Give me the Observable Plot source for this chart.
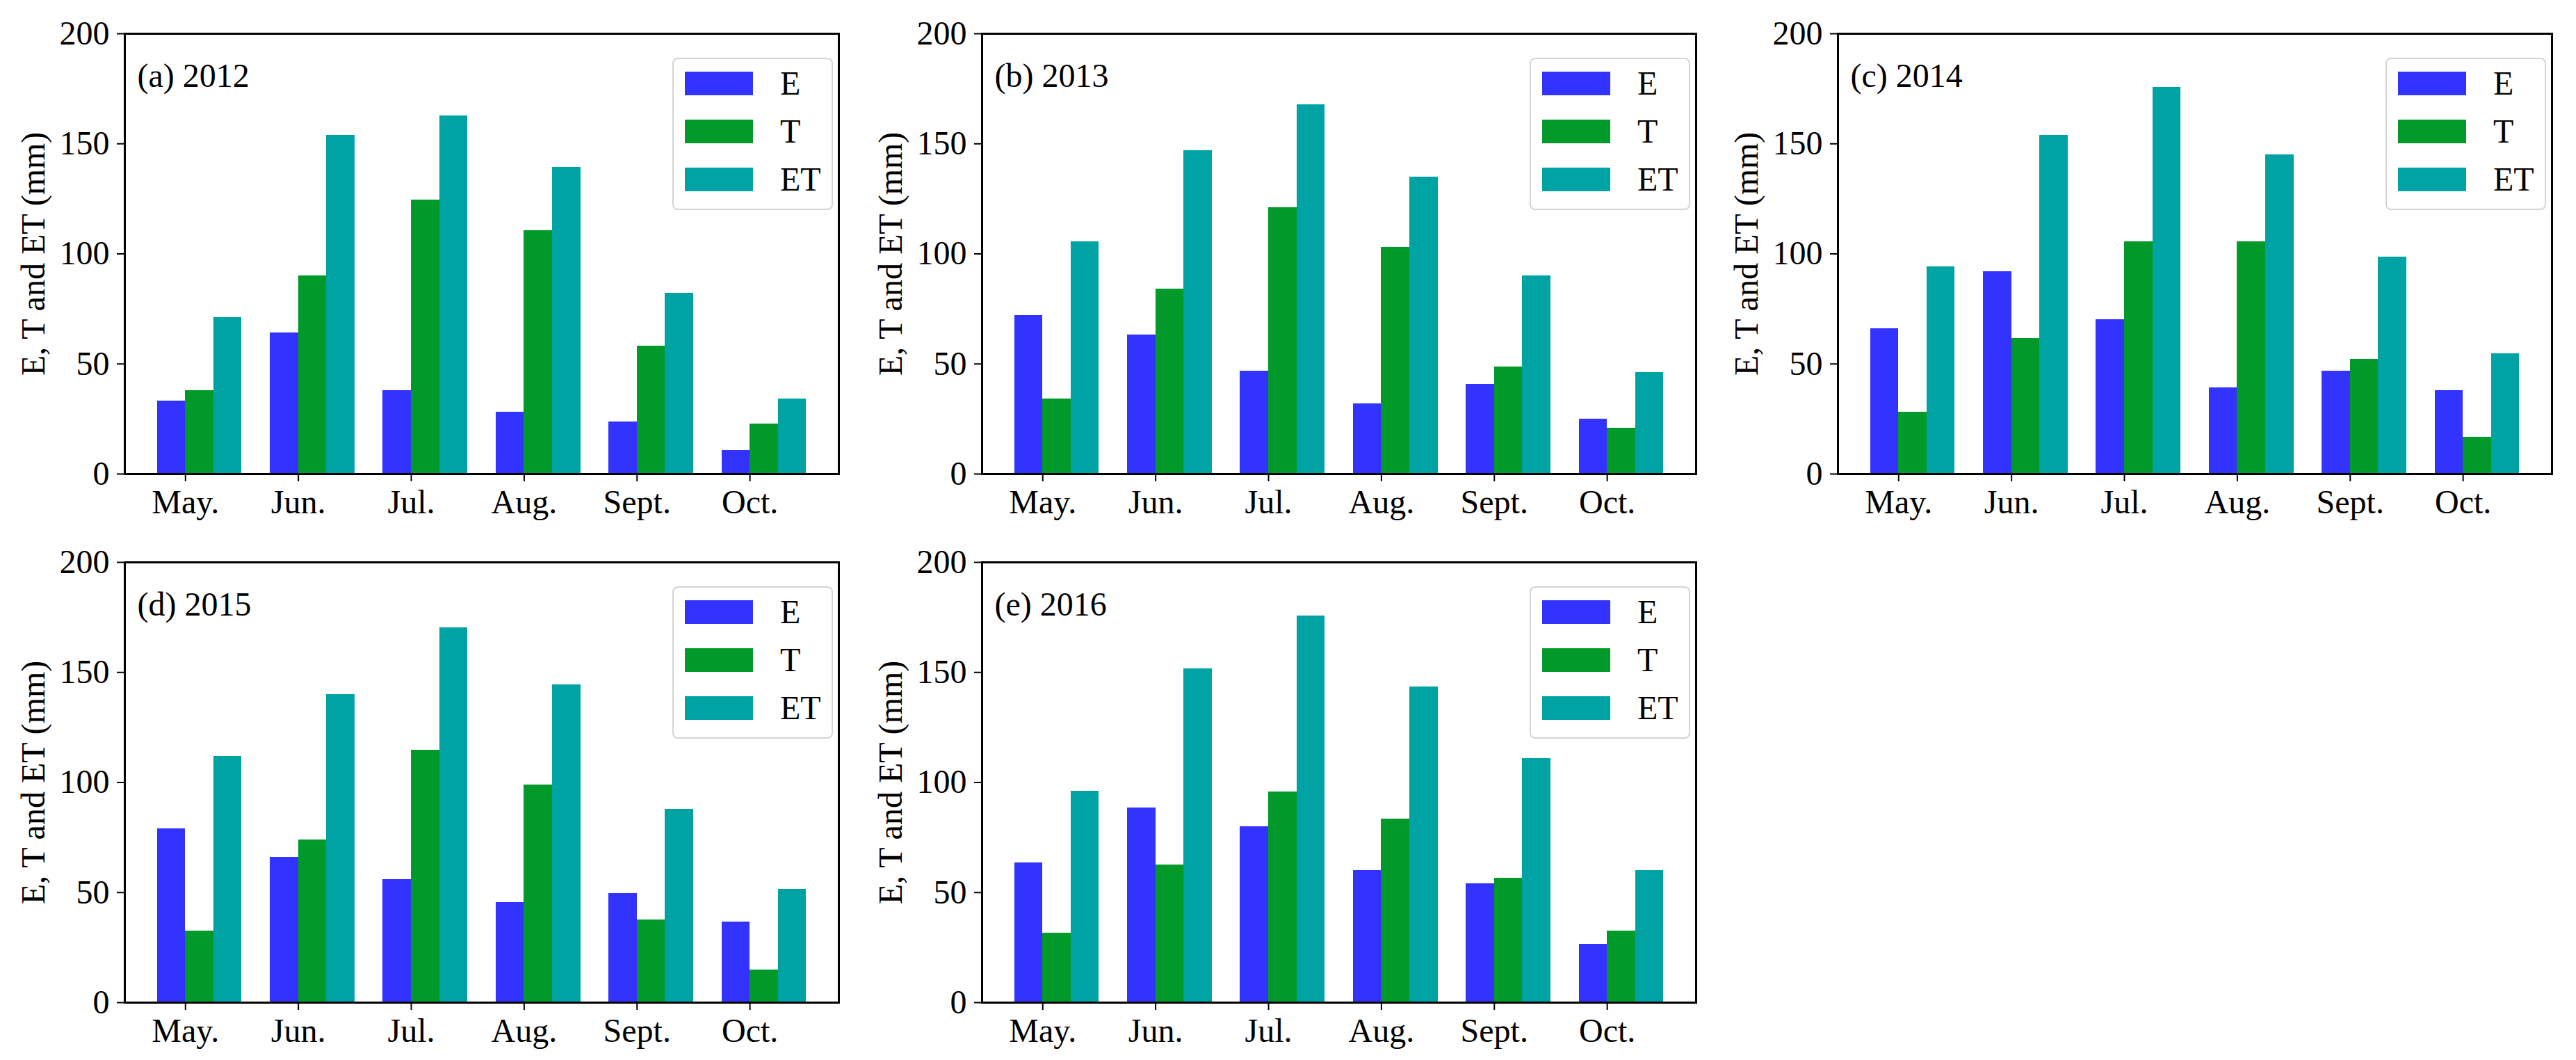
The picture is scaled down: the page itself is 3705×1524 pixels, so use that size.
<!DOCTYPE html>
<html>
<head>
<meta charset="utf-8">
<script src="https://cdn.jsdelivr.net/npm/d3@7"></script>
<script src="https://cdn.jsdelivr.net/npm/@observablehq/plot@0.6"></script>
<style>
  body { margin: 0; background: #fff; }
  #fig { position: relative; width: 3705px; height: 1524px; font-family: "Liberation Serif", "Times New Roman", serif; }
  .panel { position: absolute; }
  .legend {
    position: absolute; box-sizing: border-box; width: 231px; height: 219px;
    border: 2px solid #d4d4d4; border-radius: 8px; background: rgba(255,255,255,0.8);
    padding: 18px 0 0 16px;
  }
  .legend .row { display: flex; align-items: center; height: 34px; margin-bottom: 35px; }
  .legend .sw { width: 98px; height: 34px; }
  .legend .lab { margin-left: 39px; font-size: 48px; line-height: 34px; color: #000; }
</style>
</head>
<body>
<div id="fig"></div>
<script>
const months = ["May.", "Jun.", "Jul.", "Aug.", "Sept.", "Oct."];
const series = ["E", "T", "ET"];
const colors = ["#3333ff", "#00992a", "#00a3a3"];
const yTicks = [0, 50, 100, 150, 200];

// values (mm)
const e2012  = [33.3, 64.2, 38.0, 28.0, 23.8, 10.7];
const t2012  = [38.0, 90.0, 124.6, 110.6, 58.2, 22.8];
const et2012 = [71.1, 153.9, 162.8, 139.2, 82.0, 34.0];

const e2013  = [71.9, 63.1, 46.9, 31.9, 40.9, 25.1];
const t2013  = [34.0, 84.1, 121.1, 103.1, 48.7, 21.0];
const et2013 = [105.6, 146.8, 167.7, 135.0, 90.0, 46.0];

const e2014  = [65.9, 91.8, 70.0, 39.2, 46.9, 38.0];
const t2014  = [28.0, 61.6, 105.6, 105.6, 52.1, 16.7];
const et2014 = [94.3, 153.9, 175.8, 145.1, 98.7, 54.6];

const e2015  = [78.9, 66.1, 55.8, 45.4, 49.7, 36.8];
const t2015  = [32.5, 73.9, 114.6, 98.9, 37.7, 14.9];
const et2015 = [111.9, 139.9, 170.3, 144.5, 87.7, 51.5];

const e2016  = [63.4, 88.4, 79.8, 60.1, 54.1, 26.5];
const t2016  = [31.6, 62.7, 95.8, 83.5, 56.7, 32.5];
const et2016 = [95.9, 151.6, 175.6, 143.6, 110.8, 60.1];

const panels = [
  {title: "(a) 2012", values: [e2012, t2012, et2012], left: 0,    top: 0},
  {title: "(b) 2013", values: [e2013, t2013, et2013], left: 1233, top: 0},
  {title: "(c) 2014", values: [e2014, t2014, et2014], left: 2464, top: 0},
  {title: "(d) 2015", values: [e2015, t2015, et2015], left: 0,    top: 760},
  {title: "(e) 2016", values: [e2016, t2016, et2016], left: 1233, top: 760}
];

const ml = 179, mr = 25, mt = 48, mb = 90, pw = 1027, ph = 633;
const barW = 0.25;
const offset = [-0.25, 0, 0.25];

const fig = d3.select("#fig");

panels.forEach((p) => {
  const rows = [];
  months.forEach((m, i) => series.forEach((s, j) => rows.push({i, s, j, v: p.values[j][i]})));

  const chart = Plot.plot({
    width: ml + pw + mr,
    height: mt + ph + mb,
    marginLeft: ml, marginRight: mr, marginTop: mt, marginBottom: mb,
    style: {fontFamily: "Liberation Serif", fontSize: "48px", color: "#000", background: "transparent", overflow: "visible"},
    x: {domain: [-0.5375, 5.7875]},
    y: {domain: [0, 200]},
    color: {domain: series, range: colors},
    marks: [
      Plot.rect(rows, {
        x1: (d) => d.i + offset[d.j],
        x2: (d) => d.i + offset[d.j] + barW,
        y1: 0, y2: "v", fill: "s", inset: 0, shapeRendering: "crispEdges"
      }),
      Plot.axisX({ticks: [0, 1, 2, 3, 4, 5], tickFormat: (i) => months[i], tickSize: 11, tickPadding: 11, strokeWidth: 2, label: null}),
      Plot.axisY({ticks: yTicks, tickFormat: (d) => d, tickSize: 11, tickPadding: 11, strokeWidth: 2,
        label: "E, T and ET (mm)", labelAnchor: "center", labelOffset: 150, labelArrow: "none"}),
      Plot.frame({strokeWidth: 3}),
      Plot.text([p.title], {frameAnchor: "top-left", textAnchor: "start", lineAnchor: "top", dx: 18, dy: 42, fontSize: 48})
    ]
  });

  fig.append("div").attr("class", "panel")
    .style("left", p.left + "px").style("top", p.top + "px")
    .append(() => chart);

  const lg = fig.append("div").attr("class", "legend")
    .style("left", (p.left + ml + pw - 8 - 231) + "px")
    .style("top", (p.top + mt + 35) + "px");
  series.forEach((s, j) => {
    const r = lg.append("div").attr("class", "row");
    r.append("div").attr("class", "sw").style("background", colors[j]);
    r.append("div").attr("class", "lab").text(s);
  });
});
</script>
</body>
</html>
